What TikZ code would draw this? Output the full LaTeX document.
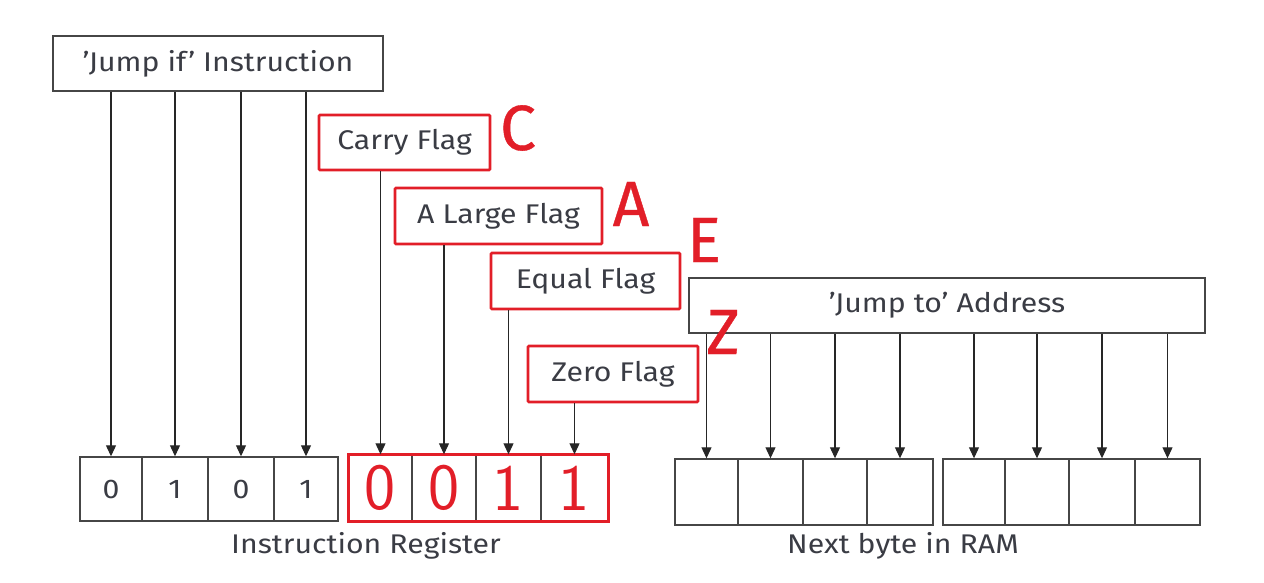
\documentclass[tikz,border=0pt]{standalone}
\usepackage{fontspec}
\setmainfont{Fira Sans}
\usetikzlibrary{arrows.meta}
\definecolor{ink}{RGB}{58,60,68}
\definecolor{flagred}{RGB}{226,30,40}
\definecolor{frame}{RGB}{70,70,70}
\newcommand{\labelfont}{\fontsize{27}{29}\selectfont\addfontfeatures{FakeStretch=1.12}}
\tikzset{
  plainbox/.style={draw=frame, line width=1.4pt, fill=white, inner sep=0pt, text=ink,
    font=\labelfont},
  flagbox/.style={draw=flagred, line width=2.6pt, fill=white, inner sep=0pt, text=ink,
    rounded corners=1pt, font=\labelfont},
  bitcell/.style={draw=frame, line width=1.4pt, minimum height=64pt, inner sep=0pt,
    text=ink, font=\labelfont},
  bigbit/.style={text=flagred, font=\sffamily\fontsize{66}{66}\selectfont},
  letter/.style={text=flagred, font=\fontsize{64}{64}\selectfont\addfontfeatures{FakeBold=0.6}},
  caption/.style={text=ink, font=\labelfont},
  arr/.style={draw=black!85, line width=1.1pt, -{Triangle[width=10pt,length=11pt]}}
}
\begin{document}
\begin{tikzpicture}[x=1pt,y=-1pt]
\useasboundingbox (0,0) rectangle (1264,582);

% source boxes
\node[plainbox, minimum width=330pt, minimum height=55pt] (jif) at (218,63.5) {'Jump if' Instruction};
\node[plainbox, minimum width=516pt, minimum height=55pt] (jto) at (947,305.5) {'Jump to' Address};

% flag boxes and their letters
\node[flagbox, minimum width=171pt, minimum height=55pt] (carry) at (404.5,142.5) {Carry Flag};
\node[flagbox, minimum width=207pt, minimum height=56pt] (large) at (498.5,216) {A Large Flag};
\node[flagbox, minimum width=189pt, minimum height=56pt] (equal) at (585.5,281) {Equal Flag};
\node[flagbox, minimum width=170pt, minimum height=56pt] (zero) at (613,374) {Zero Flag};
\node[letter] (lc) at (518,128) {C};
\node[letter] (la) at (631,204) {A};
\node[letter] (le) at (704,240) {E};
\node[letter] (lz) at (723,332) {Z};

% instruction register: opcode nibble
\node[bitcell, minimum width=62pt] (i1) at (111,489) {0};
\node[bitcell, minimum width=66pt] (i2) at (175,489) {1};
\node[bitcell, minimum width=66pt] (i3) at (241,489) {0};
\node[bitcell, minimum width=64pt] (i4) at (306,489) {1};
% instruction register: flag nibble
\node[bitcell, minimum width=63pt, minimum height=66pt] (f1) at (380.5,488) {};
\node[bitcell, minimum width=64pt, minimum height=66pt] (f2) at (444,488) {};
\node[bitcell, minimum width=65pt, minimum height=66pt] (f3) at (508.5,488) {};
\node[bitcell, minimum width=67pt, minimum height=66pt] (f4) at (574.5,488) {};
\draw[flagred, line width=2.8pt] (f1.north west) rectangle (f4.south east);
\node[bigbit] (b1) at (f1.center) {0};
\node[bigbit] (b2) at (f2.center) {0};
\node[bigbit] (b3) at (f3.center) {1};
\node[bigbit] (b4) at (f4.center) {1};
\node[caption] (ir) at (366,546) {Instruction Register};

% next byte in RAM
\node[bitcell, minimum width=63pt, minimum height=66pt] (r1) at (706.5,492) {};
\node[bitcell, minimum width=65pt, minimum height=66pt] (r2) at (770.5,492) {};
\node[bitcell, minimum width=64pt, minimum height=66pt] (r3) at (835,492) {};
\node[bitcell, minimum width=66pt, minimum height=66pt] (r4) at (900,492) {};
\node[bitcell, minimum width=62pt, minimum height=66pt] (r5) at (974,492) {};
\node[bitcell, minimum width=64pt, minimum height=66pt] (r6) at (1037,492) {};
\node[bitcell, minimum width=66pt, minimum height=66pt] (r7) at (1102,492) {};
\node[bitcell, minimum width=65pt, minimum height=66pt] (r8) at (1167.5,492) {};
\node[caption] (ram) at (903,546) {Next byte in RAM};

% connectors
\foreach \c in {i1,i2,i3,i4}
  \draw[arr] (jif.south -| \c.north) -- (\c.north);
\draw[arr] (carry.south -| f1.north) -- (f1.north);
\draw[arr] (large.south -| f2.north) -- (f2.north);
\draw[arr] (equal.south -| f3.north) -- (f3.north);
\draw[arr] (zero.south -| f4.north) -- (f4.north);
\foreach \c in {r1,r2,r3,r4,r5,r6,r7,r8}
  \draw[arr] (jto.south -| \c.north) -- (\c.north);
\end{tikzpicture}
\end{document}
